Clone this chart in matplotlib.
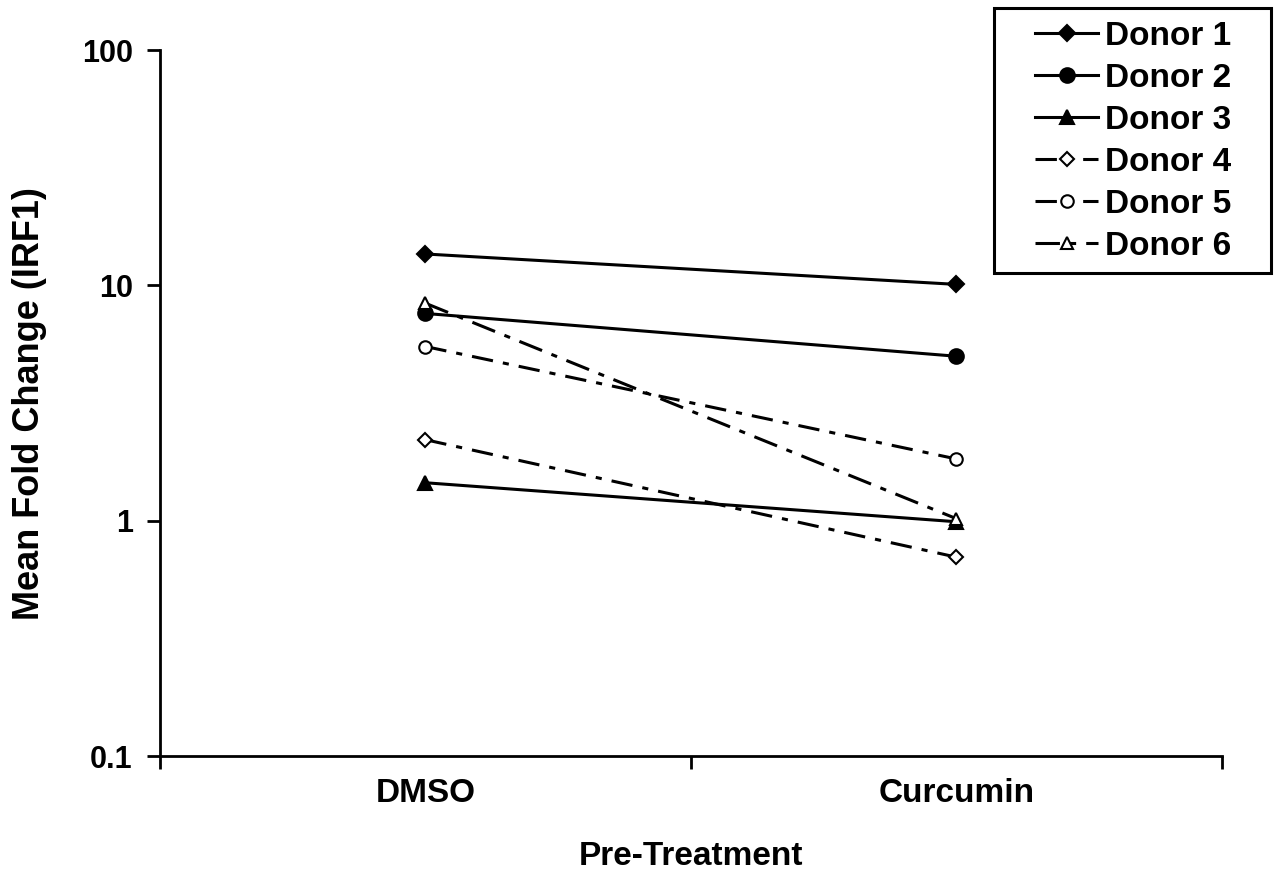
import matplotlib.pyplot as plt
from matplotlib.patches import Rectangle

plt.rcParams['font.family'] = ['Liberation Sans', 'DejaVu Sans']
plt.rcParams['font.weight'] = 'bold'

treatments = ["DMSO", "Curcumin"]
donors = ["Donor 1", "Donor 2", "Donor 3", "Donor 4", "Donor 5", "Donor 6"]
dmso = [13.6, 7.6, 1.45, 2.21, 5.5, 8.4]
curcumin = [10.1, 5.0, 0.99, 0.70, 1.83, 1.02]

markers = ["D", "o", "^", "D", "o", "^"]
filled = [True, True, True, False, False, False]
msizes = [8.5, 10.5, 10.5, 7, 9, 9]
dash_short = (0, (7, 3.3, 2, 3.3))
dash_long = (0, (8, 3.3, 2, 3.3))
styles = ["-", "-", "-", dash_short, dash_short, dash_long]

W, H = 1279, 873
fig = plt.figure(figsize=(W / 100, H / 100), dpi=100)
ax = fig.add_axes([0.125, 0.134, 0.8304, 0.8086])

xpos = [0.5, 1.5]
for i, name in enumerate(donors):
    ax.plot(xpos, [dmso[i], curcumin[i]], color="black", lw=2.2,
            linestyle=styles[i], marker=markers[i], markersize=msizes[i],
            markerfacecolor="black" if filled[i] else "white",
            markeredgecolor="black", markeredgewidth=1.5, label=name)

ax.set_yscale("log")
ax.set_ylim(0.1, 100)
ax.set_yticks([0.1, 1, 10, 100])
ax.set_yticklabels(["0.1", "1", "10", "100"])
ax.minorticks_off()
ax.set_xlim(0, 2)
ax.set_xticks([0, 1, 2])
ax.set_xticklabels(["", "", ""])
ax.set_xticks(xpos, minor=True)
ax.set_xticklabels(treatments, minor=True)
ax.tick_params(axis="x", which="minor", length=0, pad=16, labelsize=24)
ax.tick_params(axis="both", which="major", direction="out", length=9.5, width=2, labelsize=22)
ax.tick_params(axis="y", which="major", pad=10)

for s in ["top", "right"]:
    ax.spines[s].set_visible(False)
for s in ["left", "bottom"]:
    ax.spines[s].set_linewidth(2)

ax.set_xlabel("Pre-Treatment", fontsize=24, fontweight="bold", labelpad=23)
ax.set_ylabel("Mean Fold Change (IRF1)", fontsize=26, fontweight="bold", labelpad=25)

# legend without its own frame, boxed by a rectangle like the original
leg = ax.legend(loc="upper left", bbox_to_anchor=(1035 / W, 1 - 21 / H),
                bbox_transform=fig.transFigure, fontsize=24, frameon=False,
                handlelength=1.9, borderpad=0, labelspacing=0.33,
                handletextpad=0.2, borderaxespad=0)
for t in leg.get_texts():
    t.set_fontweight("bold")
fig.patches.append(Rectangle((994 / W, 1 - 273 / H), 277 / W, 265 / H,
                             transform=fig.transFigure, fill=False,
                             edgecolor="black", linewidth=2.2))

fig.savefig("out.png", dpi=100)
